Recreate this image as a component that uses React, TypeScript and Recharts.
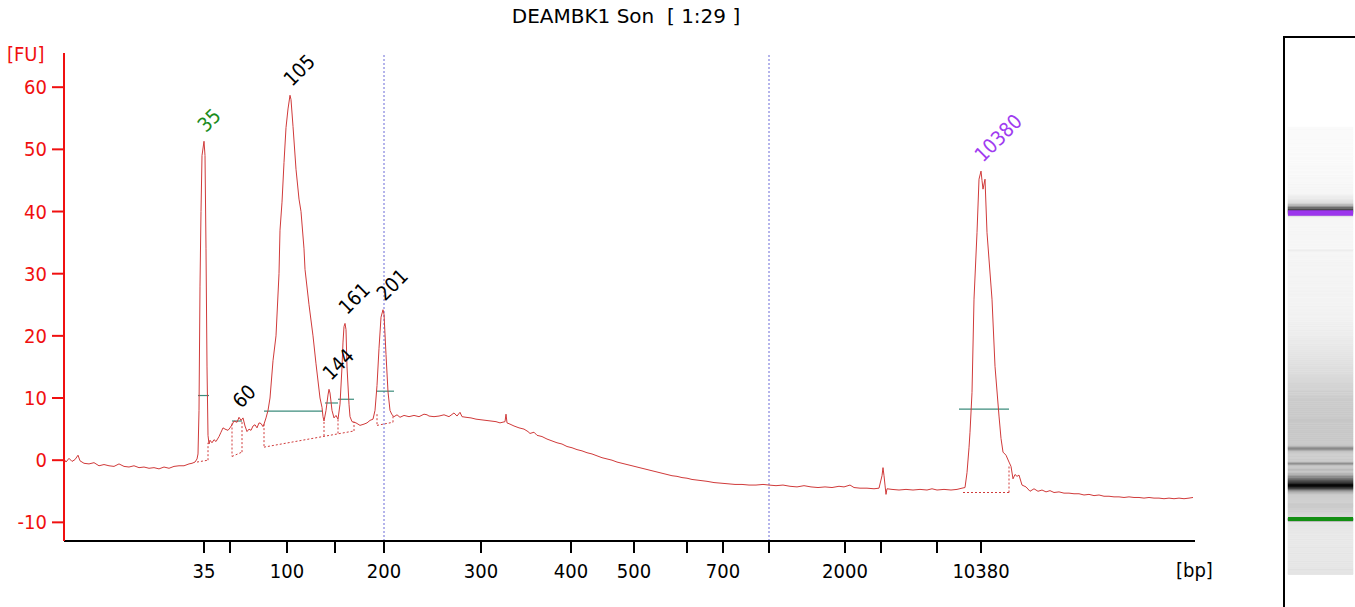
import React from "react";
import {
  ComposedChart,
  Line,
  XAxis,
  YAxis,
  ReferenceLine,
  ReferenceDot,
  ReferenceArea,
} from "recharts";

// electropherogram: migration time step vs fluorescence [FU]
const tracePoints: [number, number][] = [
  [0, 0.2], [2, -0.3], [5, 0.3], [8, -0.2], [11, 0.1], [14, 0.8], [16, -0.1], [20, -0.5],
  [25, -0.6], [30, -0.4], [35, -0.9], [40, -0.7], [45, -0.9], [50, -1.0], [55, -0.6], [60, -1.0],
  [65, -1.1], [70, -0.9], [75, -1.2], [80, -1.1], [85, -1.3], [90, -1.2], [95, -1.4], [100, -1.1],
  [105, -1.3], [110, -1.0], [115, -0.9], [120, -0.9], [125, -0.6], [128, -0.5], [131, -0.3],
  [133, 0.2], [134, 1], [135, 8], [136, 28], [137, 40], [138, 49], [140, 51.3], [141, 49],
  [142, 34], [143, 15], [144, 4], [145, 2.6], [146, 3.2], [148, 2.8], [150, 3.3], [152, 3.0],
  [155, 3.8], [157, 4.5], [159, 5.2], [161, 5.0], [164, 4.8], [166, 5.2], [168, 5.7], [170, 6.3],
  [173, 6.1], [175, 6.9], [177, 6.4], [179, 6.8], [181, 5.5], [183, 4.6], [185, 5.0], [187, 4.8],
  [189, 5.5], [191, 5.7], [193, 5.2], [195, 6.0], [197, 5.9], [199, 5.4], [200, 5.8], [202, 6.8],
  [204, 8], [206, 10], [209, 16], [212, 20], [215, 30], [216, 37], [218, 41.5], [220, 47.9],
  [222, 53.5], [224, 56.5], [226, 58.7], [227, 58], [229, 53.7], [232, 46.8], [235, 42],
  [237, 40], [240, 34], [241, 30.7], [245, 25], [249, 20], [252, 15.5], [256, 10], [258, 8.5],
  [259, 7], [260, 6.3], [262, 8], [264, 10.5], [265, 11.4], [266, 10.8], [268, 8], [270, 6.8],
  [272, 7.2], [274, 6.6], [276, 9], [278, 15], [279, 19], [280, 21.5], [281, 22], [282, 21],
  [283, 15], [285, 9], [286, 7], [288, 6.2], [292, 6.0], [296, 5.6], [300, 5.8], [303, 6.0],
  [306, 6.4], [309, 6.6], [311, 8], [313, 12], [315, 18], [317, 23], [319, 24.2], [320, 23.5],
  [322, 17], [324, 11], [326, 8], [328, 7.3], [330, 7.0], [333, 7.3], [336, 6.9], [340, 7.2],
  [345, 7.0], [350, 7.2], [355, 7.0], [360, 7.4], [363, 7.3], [365, 7.1], [370, 7.0], [375, 7.1],
  [380, 7.3], [385, 7.0], [390, 7.6], [393, 7.1], [396, 7.7], [398, 7.0], [402, 6.9], [407, 6.8],
  [412, 6.6], [417, 6.5], [422, 6.4], [427, 6.3], [432, 6.2], [436, 6.0], [441, 6.2], [442, 7.4],
  [443, 6.0], [446, 5.8], [450, 5.5], [455, 5.2], [460, 5.0], [464, 4.6], [466, 4.3], [470, 4.5],
  [473, 4.0], [478, 3.8], [483, 3.4], [488, 3.1], [493, 2.8], [498, 2.6], [503, 2.2], [508, 2.0],
  [513, 1.7], [518, 1.5], [523, 1.2], [528, 1.0], [533, 0.7], [538, 0.4], [543, 0.2], [548, 0.0],
  [553, -0.3], [558, -0.5], [563, -0.7], [568, -0.9], [573, -1.1], [578, -1.3], [583, -1.5],
  [588, -1.7], [593, -1.9], [598, -2.1], [603, -2.3], [608, -2.5], [613, -2.6], [618, -2.8],
  [623, -2.9], [628, -3.1], [633, -3.2], [638, -3.3], [643, -3.4], [650, -3.6], [657, -3.7],
  [664, -3.8], [671, -3.9], [678, -3.9], [685, -4.0], [692, -4.0], [699, -3.9], [705, -4.0],
  [712, -4.1], [719, -4.0], [726, -4.2], [733, -4.3], [740, -4.1], [747, -4.3], [754, -4.4],
  [761, -4.3], [768, -4.4], [775, -4.2], [780, -4.3], [786, -4.0], [790, -4.4], [796, -4.5],
  [803, -4.5], [810, -4.6], [815, -4.5], [818, -2.5], [819, -1.2], [820, -2.5], [821, -4.0],
  [822, -5.5], [823, -4.6], [828, -4.7], [835, -4.8], [842, -4.7], [849, -4.8], [856, -4.7],
  [863, -4.8], [868, -4.6], [873, -4.8], [880, -4.7], [887, -4.8], [893, -4.7], [898, -4.5],
  [901, -4.4], [903, -2], [905, 2], [906, 4.5], [908, 10.9], [910, 25.9], [913, 36.6], [915, 45.2],
  [917, 46.5], [918, 45.0], [919, 43.6], [921, 45.2], [923, 36.6], [928, 25.9], [931, 15.1],
  [935, 7.1], [937, 3.5], [939, 1.3], [942, 0.8], [945, -0.3], [947, -1.0], [949, -3.0],
  [951, -2.3], [953, -2.6], [955, -2.4], [958, -4.0], [962, -4.3], [966, -5.0], [970, -4.6],
  [974, -5.0], [978, -4.8], [982, -5.1], [986, -4.9], [990, -5.2], [995, -5.1], [1000, -5.3],
  [1005, -5.3], [1010, -5.4], [1015, -5.4], [1020, -5.6], [1025, -5.5], [1030, -5.7],
  [1035, -5.6], [1040, -5.8], [1045, -5.8], [1050, -5.9], [1055, -5.9], [1060, -6.0],
  [1065, -5.9], [1070, -6.0], [1075, -6.0], [1080, -6.1], [1085, -6.0], [1090, -6.1],
  [1095, -6.1], [1100, -6.2], [1105, -6.1], [1110, -6.2], [1115, -6.1], [1120, -6.2],
  [1125, -6.1], [1129, -6.0],
];

const fuTicks = [-10, 0, 10, 20, 30, 40, 50, 60];

// ladder positions on the time axis and their bp labels
const bpTickTimes = [140, 166, 223, 271, 320, 417, 507, 570, 623, 659, 705, 781, 817, 873, 917];
const bpTickLabels = ["35", "", "100", "", "200", "300", "400", "500", "", "700", "", "2000", "", "", "10380"];

// called peaks
const peakNames = ["35", "60", "105", "144", "161", "201", "10380"];
const peakTimes = [140, 175, 226, 265, 281, 319, 917];
const peakHeights = [51.3, 6.9, 58.7, 11.4, 22, 24.2, 46.5];

// peak width markers (green)
const widthStart = [134, 168, 200, 261, 274, 312, 895];
const widthEnd = [145, 178, 259, 274, 290, 330, 945];
const widthLevel = [10.4, 6.3, 7.9, 9.2, 9.8, 11.1, 8.2];

// integration baselines (dotted)
const baselinePaths: [number, number][][] = [
  [[133, -0.3], [144, 0.0], [144, 2.8]],
  [[168, 5.9], [168, 0.6], [178, 1.3], [178, 6.3]],
  [[200, 5.8], [200, 2.1], [290, 4.7], [290, 6.2]],
  [[260, 3.9], [260, 6.3]],
  [[274, 4.3], [274, 6.6]],
  [[313, 7.4], [313, 5.6], [329, 6.1], [329, 7.2]],
  [[899, -5.2], [945, -5.2], [945, -1.0]],
];

// vertical dotted guides
const guideTimes = [320, 705];

const lowerMarker = 140;
const upperMarker = 917;

const FONT = '"DejaVu Sans Condensed", "Liberation Sans", Arial, sans-serif';
const TITLE_FONT = '"DejaVu Sans", Verdana, sans-serif';
const TRACE = "#d03a3a";
const AXIS_RED = "#f01010";

const data = tracePoints.map(([t, fu]) => ({ t, fu }));

function grayFor(fu: number) {
  const g = Math.max(0, Math.min(250, Math.round(245 - (fu + 4.5) * 3.9)));
  return `rgb(${g},${g},${g})`;
}

// gel-like lane: each trace interval becomes a band, darker where fluorescence is higher
function GelLane() {
  const slices = tracePoints.slice(1).map(([t, fu], i) => {
    const [t0, fu0] = tracePoints[i];
    return { y1: t0, y2: t, c: grayFor((fu + fu0) / 2) };
  });
  const laneData = [{ x: 0, t: -82 }, { x: 1, t: 1356 }];
  return (
    <ComposedChart width={72} height={570} margin={{ top: 0, right: 2, bottom: 0, left: 5 }} data={laneData}>
      <XAxis type="number" dataKey="x" domain={[0, 1]} hide />
      <YAxis type="number" dataKey="t" domain={[-82, 1356]} allowDataOverflow hide />
      <Line dataKey="t" stroke="none" dot={false} isAnimationActive={false} />
      {slices.map((s, i) => (
        <ReferenceArea key={i} x1={0} x2={1} y1={s.y1} y2={s.y2} fill={s.c} fillOpacity={1} stroke={s.c} strokeWidth={0.6} ifOverflow="visible" />
      ))}
      <ReferenceArea x1={0} x2={1} y1={upperMarker - 12} y2={upperMarker + 2} fill="#9b35ec" fillOpacity={1} stroke="none" ifOverflow="visible" />
      <ReferenceArea x1={0} x2={1} y1={lowerMarker - 5} y2={lowerMarker + 5} fill="#138f13" fillOpacity={1} stroke="none" ifOverflow="visible" />
    </ComposedChart>
  );
}

export default function App() {
  return (
    <div style={{ position: "absolute", left: 0, top: 0, width: 1355, height: 607, background: "#fff", fontFamily: FONT, overflow: "hidden" }}>
      <div style={{ position: "absolute", left: 0, width: 1252, top: 4, textAlign: "center", fontSize: 20, whiteSpace: "pre", color: "#000", fontFamily: TITLE_FONT }}>
        {"DEAMBK1 Son  [ 1:29 ]"}
      </div>
      <div style={{ position: "absolute", left: 7, top: 42, fontSize: 20, color: AXIS_RED }}>[FU]</div>
      <div style={{ position: "absolute", left: 1176, top: 558, fontSize: 20, color: "#000" }}>[bp]</div>

      <div style={{ position: "absolute", left: 0, top: 0 }}>
        <ComposedChart width={1230} height={607} data={data} margin={{ top: 53, right: 35, bottom: 26, left: 0 }}>
          <XAxis
            type="number"
            dataKey="t"
            domain={[0, 1131]}
            allowDataOverflow
            ticks={bpTickTimes}
            interval={0}
            tickFormatter={(v: number) => bpTickLabels[bpTickTimes.indexOf(v)] ?? ""}
            height={40}
            stroke="#000"
            axisLine={{ stroke: "#000", strokeWidth: 2 }}
            tickLine={{ stroke: "#000", strokeWidth: 2 }}
            tickSize={12}
            tickMargin={11}
            tick={{ fill: "#000", fontSize: 20, fontFamily: FONT }}
          />
          <YAxis
            type="number"
            domain={[-13, 65.5]}
            allowDataOverflow
            ticks={fuTicks}
            interval={0}
            width={64}
            axisLine={{ stroke: AXIS_RED, strokeWidth: 2 }}
            tickLine={{ stroke: AXIS_RED, strokeWidth: 2 }}
            tickSize={12}
            tickMargin={5}
            tick={{ fill: AXIS_RED, fontSize: 20, fontFamily: FONT }}
          />
          {guideTimes.map((t) => (
            <ReferenceLine key={t} x={t} stroke="#6a6ad8" strokeDasharray="2 2" strokeWidth={1} />
          ))}
          {baselinePaths.flatMap((path, pi) =>
            path.slice(1).map(([t, fu], i) => (
              <ReferenceLine
                key={`b${pi}-${i}`}
                segment={[{ x: path[i][0], y: path[i][1] }, { x: t, y: fu }]}
                stroke={TRACE}
                strokeDasharray="2 2"
                strokeWidth={1}
              />
            ))
          )}
          {peakNames.map((n, i) => (
            <ReferenceLine
              key={`w${n}`}
              segment={[{ x: widthStart[i], y: widthLevel[i] }, { x: widthEnd[i], y: widthLevel[i] }]}
              stroke="#3d8c7c"
              strokeWidth={1.2}
            />
          ))}
          <Line type="linear" dataKey="fu" stroke={TRACE} strokeWidth={1} dot={false} isAnimationActive={false} />
          {peakNames.map((n, i) => {
            const color = i === 0 ? "#1c8c1c" : i === peakNames.length - 1 ? "#a03cf0" : "#000";
            return (
              <ReferenceDot
                key={`l${n}`}
                x={peakTimes[i]}
                y={peakHeights[i]}
                r={0}
                shape={(p: any) => {
                  const x = p.cx + 2;
                  const y = p.cy - 8;
                  return (
                    <text x={x} y={y} transform={`rotate(-45 ${x} ${y})`} fontSize={20} fill={color} fontFamily={FONT}>
                      {n}
                    </text>
                  );
                }}
              />
            );
          })}
        </ComposedChart>
      </div>

      <div style={{ position: "absolute", left: 1283, top: 37 }}>
        <GelLane />
      </div>
      <div style={{ position: "absolute", left: 1283, top: 36, width: 72, height: 571, borderLeft: "2px solid #000", borderTop: "2px solid #000", boxSizing: "border-box" }} />
    </div>
  );
}
